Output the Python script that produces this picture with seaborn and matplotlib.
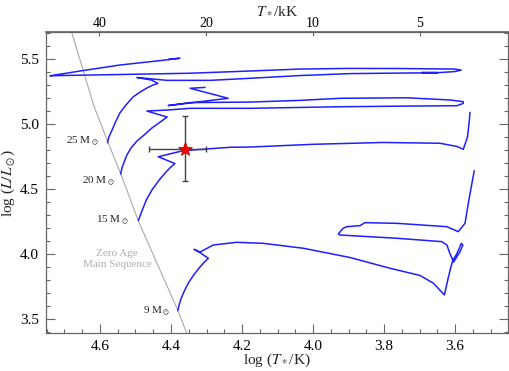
import numpy as np
import pandas as pd
import matplotlib.pyplot as plt
import seaborn as sns
from matplotlib.ticker import MultipleLocator, NullLocator

# evolutionary tracks (log Teff, log L)
t25_logT = [4.579, 4.575, 4.566, 4.555, 4.544, 4.527, 4.507, 4.487, 4.468, 4.451, 4.437,
            4.454, 4.496, 4.411, 4.290, 4.177, 4.037, 3.896, 3.755, 3.648, 3.693, 3.642,
            3.600, 3.583, 3.600, 3.755, 3.896, 4.037, 4.177, 4.346, 4.544, 4.713, 4.741,
            4.727, 4.656, 4.544, 4.431, 4.375, 4.397, 4.408]
t25_logL = [4.856, 4.900, 4.954, 5.023, 5.085, 5.146, 5.208, 5.246, 5.277, 5.300, 5.312,
            5.338, 5.358, 5.336, 5.336, 5.352, 5.373, 5.388, 5.392, 5.395, 5.396, 5.396,
            5.404, 5.415, 5.423, 5.427, 5.428, 5.423, 5.408, 5.391, 5.381, 5.373, 5.371,
            5.377, 5.408, 5.454, 5.488, 5.506, 5.502, 5.496]

t20_logT = [4.542, 4.538, 4.532, 4.524, 4.513, 4.496, 4.476, 4.454, 4.434, 4.417, 4.411,
            4.468, 4.408, 4.346, 4.177, 3.924, 3.736, 3.595, 3.577, 3.577, 3.614, 3.736,
            3.924, 4.037, 4.177, 4.346, 4.408, 4.239, 4.346, 4.304]
t20_logL = [4.615, 4.662, 4.708, 4.762, 4.815, 4.869, 4.915, 4.969, 5.008, 5.042, 5.054,
            5.100, 5.108, 5.121, 5.121, 5.133, 5.138, 5.141, 5.159, 5.172, 5.185, 5.202,
            5.198, 5.182, 5.169, 5.165, 5.142, 5.198, 5.275, 5.282]

t15_logT = [4.492, 4.483, 4.469, 4.452, 4.431, 4.414, 4.403, 4.389, 4.436, 4.366, 4.234,
            4.177, 4.000, 3.803, 3.642, 3.594, 3.577, 3.565, 3.560, 3.558]
t15_logL = [4.258, 4.323, 4.419, 4.500, 4.577, 4.631, 4.662, 4.696, 4.748, 4.795, 4.821,
            4.823, 4.844, 4.858, 4.852, 4.827, 4.805, 4.900, 5.023, 5.090]

t9_logT = [4.381, 4.377, 4.372, 4.363, 4.352, 4.338, 4.321, 4.307, 4.295, 4.318, 4.335,
           4.318, 4.281, 4.215, 4.140, 4.027, 3.896, 3.783, 3.699, 3.661, 3.630, 3.620,
           3.611, 3.606, 3.597, 3.589, 3.583, 3.578, 3.586, 3.604, 3.614, 3.623, 3.637,
           3.764, 3.924, 3.929, 3.915, 3.905, 3.868, 3.854, 3.764, 3.623, 3.591, 3.572,
           3.563, 3.555, 3.546]
t9_logL = [3.564, 3.608, 3.654, 3.712, 3.773, 3.831, 3.892, 3.935, 3.967, 4.010, 4.036,
           4.015, 4.069, 4.090, 4.082, 4.044, 3.973, 3.890, 3.835, 3.775, 3.685, 3.808,
           3.908, 3.954, 3.992, 4.038, 4.081, 4.069, 4.018, 3.938, 4.000, 4.069, 4.095,
           4.121, 4.146, 4.154, 4.198, 4.210, 4.218, 4.241, 4.236, 4.210, 4.172, 4.236,
           4.385, 4.508, 4.641]

zams_logT = [4.690, 4.680, 4.651, 4.617, 4.580, 4.539, 4.492, 4.431, 4.380, 4.356, 4.336]
zams_logL = [5.800, 5.708, 5.446, 5.138, 4.877, 4.600, 4.254, 3.877, 3.562, 3.392, 3.250]

mass_labels = ["25 $\\mathrm{M}_\\odot$", "20 $\\mathrm{M}_\\odot$",
               "15 $\\mathrm{M}_\\odot$", "9 $\\mathrm{M}_\\odot$"]
label_logT = [4.605, 4.558, 4.520, 4.403]
label_logL = [4.870, 4.562, 4.262, 3.557]

# the star: Teff in kK with range, log L with error
star_T = 23.0
star_T_range = (20.0, 29.0)
star_logL = 4.81
star_logL_err = 0.25

tracks = {"25": (t25_logT, t25_logL), "20": (t20_logT, t20_logL),
          "15": (t15_logT, t15_logL), "9": (t9_logT, t9_logL)}
df = pd.concat([pd.DataFrame({"logT": x, "logL": y, "track": k})
                for k, (x, y) in tracks.items()], ignore_index=True)

sns.set_theme(style="ticks")
plt.rcParams["font.family"] = ["Liberation Serif", "DejaVu Serif"]
plt.rcParams["mathtext.fontset"] = "stix"

fig, ax = plt.subplots(figsize=(5.09, 3.71), dpi=100)
fig.subplots_adjust(left=0.0904, right=0.998, bottom=0.1024, top=0.9137)

sns.lineplot(x=zams_logT, y=zams_logL, sort=False, color="#aaaaaa", lw=0.8, ax=ax)
sns.lineplot(data=df, x="logT", y="logL", units="track", estimator=None, sort=False,
             color="#1f1fff", lw=1.1, ax=ax)

lt = np.log10(star_T * 1e3)
xerr = [[lt - np.log10(star_T_range[0] * 1e3)], [np.log10(star_T_range[1] * 1e3) - lt]]
ax.errorbar(lt, star_logL, xerr=xerr, yerr=star_logL_err, fmt="none",
            ecolor="#444444", elinewidth=1.0, capsize=2.5, capthick=1.0, zorder=4)
ax.plot(lt, star_logL, marker="*", ms=10.5, color="red", mec="#aa0000", mew=0.5, zorder=5)

for lab, x, y in zip(mass_labels, label_logT, label_logL):
    ax.text(x, y, lab, ha="right", va="center", fontsize=8)
ax.text(4.552, 3.962, "Zero Age\nMain Sequence", ha="center", va="center",
        fontsize=8, color="#b0b0b0", linespacing=1.35)

ax.set_xlim(4.752, 3.451)
ax.set_ylim(3.392, 5.708)
ax.xaxis.set_major_locator(MultipleLocator(0.2))
ax.xaxis.set_minor_locator(MultipleLocator(0.05))
ax.yaxis.set_major_locator(MultipleLocator(0.5))
ax.yaxis.set_minor_locator(MultipleLocator(0.1))
ax.set_xticks([4.6, 4.4, 4.2, 4.0, 3.8, 3.6])
ax.set_xlabel("log ($T_*$/K)", fontsize=11, labelpad=-1)
ax.set_ylabel("log ($L/L_\\odot$)", fontsize=11, labelpad=2)

ax.tick_params(which="both", direction="in", right=True, colors="#666666",
               labelcolor="black", labelsize=11, width=0.8)
ax.tick_params(which="major", length=6.5, pad=5)
ax.tick_params(which="minor", length=3.2)
for s in ax.spines.values():
    s.set_color("#666666")
    s.set_linewidth(0.9)

sec = ax.secondary_xaxis("top", functions=(lambda x: 10 ** x / 1e3,
                                           lambda t: np.log10(np.clip(t, 1e-6, None) * 1e3)))
sec.set_xticks([40, 20, 10, 5])
sec.set_xticklabels(["40", "20", "10", "5"])
sec.xaxis.set_minor_locator(NullLocator())
sec.tick_params(direction="in", length=3.2, width=0.8, colors="#666666",
                labelcolor="black", labelsize=10, pad=1.5)
sec.spines["top"].set_color("#666666")
sec.set_xlabel("$T_*$/kK", fontsize=11, labelpad=2)

fig.savefig("out.png", dpi=100)
